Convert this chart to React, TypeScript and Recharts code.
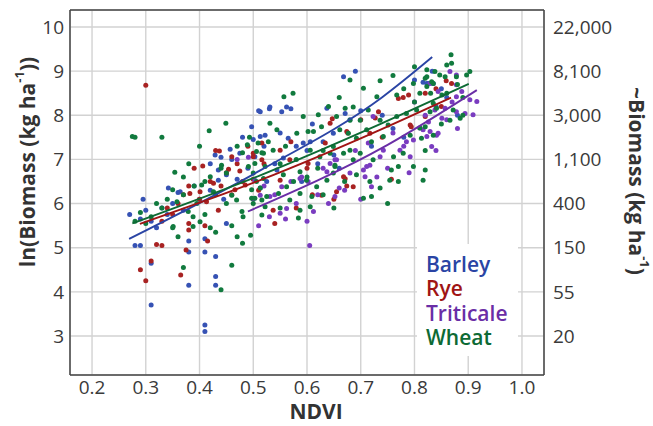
import React from 'react';
import {
  ScatterChart,
  Scatter,
  XAxis,
  YAxis,
  CartesianGrid,
  ReferenceLine,
} from 'recharts';

// NDVI vs ln(biomass) samples: [ndvi, ln(kg/ha)]
const barleyPoints: [number, number][] = [
  [0.27, 5.75], [0.28, 5.05], [0.29, 5.05], [0.29, 5.65], [0.3, 5.85], [0.295, 6.1], [0.31, 3.7],
  [0.31, 4.65], [0.31, 5.6], [0.32, 5.45], [0.33, 5.9], [0.34, 5.75], [0.342, 6.35], [0.35, 6.0],
  [0.36, 6.25], [0.364, 6.27], [0.37, 5.85], [0.38, 4.15], [0.38, 4.9], [0.38, 5.15], [0.39, 6.4],
  [0.4, 6.1], [0.41, 3.1], [0.41, 3.25], [0.41, 4.9], [0.41, 5.2], [0.42, 6.9], [0.42, 6.3],
  [0.43, 4.15], [0.43, 4.35], [0.43, 4.8], [0.429, 7.1], [0.435, 6.76], [0.435, 6.53], [0.44, 7.05],
  [0.445, 6.1], [0.45, 5.55], [0.45, 6.65], [0.457, 7.23], [0.46, 7.0], [0.47, 6.55], [0.475, 7.14],
  [0.48, 7.5], [0.49, 6.8], [0.497, 7.74], [0.5, 7.45], [0.503, 7.06], [0.51, 8.1], [0.513, 7.52],
  [0.513, 6.35], [0.513, 8.08], [0.52, 7.3], [0.522, 7.55], [0.525, 6.5], [0.531, 8.19], [0.53, 8.15],
  [0.54, 6.9], [0.544, 6.76], [0.553, 8.08], [0.556, 7.03], [0.55, 7.6], [0.562, 8.19], [0.565, 7.48],
  [0.57, 8.15], [0.58, 7.3], [0.59, 6.5], [0.593, 7.37], [0.606, 7.4], [0.6, 7.2], [0.61, 7.8],
  [0.62, 6.9], [0.63, 7.4], [0.637, 8.16], [0.649, 7.59], [0.65, 7.1], [0.66, 6.8], [0.668, 8.87],
  [0.671, 8.04], [0.68, 7.9], [0.69, 9.0], [0.7, 8.1], [0.72, 7.3], [0.74, 8.0], [0.76, 7.7],
  [0.78, 7.5], [0.8, 8.8], [0.816, 8.75], [0.823, 8.72], [0.826, 8.72], [0.833, 9.0], [0.835, 8.72],
  [0.84, 8.2], [0.85, 8.6], [0.86, 8.4], [0.88, 8.0],
];

const ryePoints: [number, number][] = [
  [0.29, 4.5], [0.3, 4.25], [0.3, 8.68], [0.31, 4.7], [0.32, 5.07], [0.33, 5.05], [0.33, 5.6],
  [0.34, 5.9], [0.35, 5.75], [0.36, 6.0], [0.365, 4.38], [0.37, 6.2], [0.375, 4.95], [0.38, 5.4],
  [0.38, 5.55], [0.38, 6.4], [0.382, 6.23], [0.39, 6.8], [0.4, 6.1], [0.401, 6.27], [0.406, 6.85],
  [0.41, 5.5], [0.413, 6.04], [0.415, 5.15], [0.42, 6.5], [0.426, 6.46], [0.43, 7.2], [0.435, 5.85],
  [0.437, 7.19], [0.44, 6.4], [0.45, 6.7], [0.454, 6.78], [0.46, 7.06], [0.46, 6.2], [0.466, 6.31],
  [0.47, 6.9], [0.475, 6.74], [0.48, 6.5], [0.485, 6.42], [0.49, 7.3], [0.5, 7.06], [0.5, 7.14],
  [0.5, 6.55], [0.516, 7.37], [0.516, 6.99], [0.51, 6.3], [0.52, 6.9], [0.537, 5.85], [0.54, 5.55],
  [0.55, 7.21], [0.55, 6.53], [0.568, 6.99], [0.57, 7.4], [0.58, 5.9], [0.6, 6.8], [0.602, 6.91],
  [0.61, 6.2], [0.627, 6.19], [0.634, 7.37], [0.643, 7.82], [0.647, 7.92], [0.65, 6.1],
  [0.655, 6.27], [0.668, 6.61], [0.671, 6.56], [0.674, 7.63], [0.674, 6.4], [0.676, 7.6],
  [0.686, 6.38], [0.7, 7.9], [0.717, 7.59], [0.727, 7.94], [0.733, 8.08], [0.74, 7.5],
  [0.757, 6.55], [0.77, 8.38], [0.779, 8.4], [0.789, 8.46], [0.792, 7.78], [0.794, 7.74],
  [0.82, 7.97], [0.82, 8.5], [0.84, 8.6], [0.859, 8.78], [0.869, 8.72], [0.85, 8.2],
];

const triticalePoints: [number, number][] = [
  [0.47, 7.0], [0.491, 7.05], [0.5, 6.1], [0.503, 6.53], [0.51, 5.5], [0.513, 6.19], [0.52, 6.4],
  [0.531, 6.16], [0.53, 5.7], [0.54, 6.2], [0.55, 5.78], [0.553, 6.38], [0.56, 5.65], [0.562, 5.89],
  [0.57, 6.5], [0.58, 6.0], [0.587, 6.57], [0.59, 6.6], [0.6, 5.6], [0.602, 6.5], [0.605, 5.05],
  [0.612, 5.82], [0.62, 6.2], [0.63, 6.8], [0.637, 6.72], [0.64, 6.0], [0.643, 6.91], [0.652, 6.16],
  [0.652, 6.99], [0.655, 6.99], [0.66, 6.35], [0.67, 6.3], [0.68, 6.69], [0.69, 7.2], [0.7, 6.1],
  [0.705, 6.76], [0.708, 6.61], [0.711, 6.84], [0.714, 7.37], [0.717, 6.87], [0.72, 6.38],
  [0.723, 7.97], [0.73, 6.6], [0.736, 7.06], [0.742, 7.21], [0.75, 6.8], [0.76, 7.6], [0.773, 7.21],
  [0.78, 7.3], [0.785, 7.4], [0.79, 6.7], [0.792, 7.06], [0.798, 7.44], [0.81, 7.71], [0.816, 7.67],
  [0.82, 8.0], [0.823, 7.52], [0.826, 7.85], [0.829, 8.72], [0.829, 7.63], [0.832, 7.29],
  [0.838, 8.12], [0.841, 7.55], [0.844, 8.54], [0.844, 7.59], [0.84, 7.2], [0.851, 7.93],
  [0.857, 8.16], [0.86, 7.9], [0.866, 8.99], [0.87, 8.3], [0.878, 8.91], [0.878, 8.69],
  [0.878, 8.42], [0.878, 8.08], [0.88, 7.7], [0.888, 8.54], [0.894, 8.04], [0.903, 8.35],
  [0.909, 8.01], [0.916, 8.31], [0.8, 8.3],
];

const wheatPoints: [number, number][] = [
  [0.275, 7.52], [0.28, 7.5], [0.28, 5.6], [0.29, 5.8], [0.3, 5.55], [0.31, 5.7], [0.32, 6.0],
  [0.33, 7.5], [0.33, 5.9], [0.34, 6.1], [0.35, 5.45], [0.351, 5.48], [0.35, 6.31], [0.354, 6.71],
  [0.36, 5.25], [0.358, 6.04], [0.37, 4.55], [0.37, 6.6], [0.37, 6.2], [0.379, 5.82], [0.38, 6.9],
  [0.388, 5.7], [0.388, 5.48], [0.39, 6.4], [0.395, 6.0], [0.401, 5.59], [0.404, 6.42], [0.4, 7.3],
  [0.41, 6.5], [0.41, 5.75], [0.418, 7.65], [0.42, 6.61], [0.42, 5.45], [0.426, 6.27], [0.43, 6.2],
  [0.43, 5.35], [0.44, 4.05], [0.441, 6.87], [0.44, 6.8], [0.449, 7.82], [0.45, 6.69], [0.45, 6.0],
  [0.46, 4.6], [0.46, 5.5], [0.46, 6.19], [0.469, 6.08], [0.47, 5.25], [0.47, 7.3], [0.479, 5.82],
  [0.48, 7.15], [0.481, 5.7], [0.48, 5.1], [0.489, 7.33], [0.491, 6.84], [0.493, 7.5], [0.495, 5.28],
  [0.497, 6.12], [0.497, 6.31], [0.5, 6.0], [0.5, 6.69], [0.503, 6.91], [0.503, 6.12], [0.506, 7.18],
  [0.506, 6.5], [0.509, 7.37], [0.513, 6.35], [0.516, 7.15], [0.516, 6.08], [0.516, 5.74],
  [0.519, 6.57], [0.519, 7.14], [0.522, 6.84], [0.522, 5.93], [0.525, 6.16], [0.528, 7.4],
  [0.531, 7.82], [0.537, 7.21], [0.544, 7.67], [0.547, 6.23], [0.55, 6.9], [0.55, 5.9],
  [0.556, 6.65], [0.557, 8.42], [0.56, 7.3], [0.562, 6.38], [0.568, 6.08], [0.574, 8.5],
  [0.575, 6.5], [0.581, 7.59], [0.584, 5.67], [0.58, 7.0], [0.587, 6.72], [0.587, 6.23],
  [0.587, 5.85], [0.593, 7.97], [0.599, 6.53], [0.602, 7.63], [0.6, 6.6], [0.606, 7.21],
  [0.606, 5.93], [0.609, 6.16], [0.612, 7.63], [0.618, 6.38], [0.621, 8.01], [0.624, 7.06],
  [0.627, 7.74], [0.62, 6.8], [0.63, 7.2], [0.63, 6.2], [0.637, 6.53], [0.64, 8.2], [0.643, 7.14],
  [0.649, 7.29], [0.649, 6.69], [0.652, 6.87], [0.652, 6.84], [0.655, 7.97], [0.65, 5.9],
  [0.661, 7.67], [0.66, 8.4], [0.668, 7.14], [0.67, 6.5], [0.671, 8.16], [0.677, 7.59],
  [0.68, 7.89], [0.68, 7.21], [0.686, 8.19], [0.686, 6.99], [0.68, 8.8], [0.692, 7.48],
  [0.692, 6.65], [0.699, 7.89], [0.699, 7.14], [0.705, 8.61], [0.705, 6.12], [0.711, 7.67],
  [0.714, 8.12], [0.717, 6.5], [0.72, 7.4], [0.72, 6.16], [0.723, 6.99], [0.73, 8.42],
  [0.736, 8.78], [0.736, 7.89], [0.736, 6.35], [0.742, 7.52], [0.751, 7.78], [0.754, 6.53],
  [0.757, 6.76], [0.75, 6.0], [0.76, 8.9], [0.761, 7.06], [0.767, 8.46], [0.767, 7.97],
  [0.77, 6.84], [0.77, 6.5], [0.779, 7.14], [0.78, 8.6], [0.785, 8.04], [0.792, 7.55],
  [0.798, 8.72], [0.798, 6.84], [0.8, 8.3], [0.8, 9.1], [0.804, 8.12], [0.81, 7.71], [0.81, 8.5],
  [0.813, 7.48], [0.816, 6.53], [0.82, 6.76], [0.82, 8.84], [0.82, 7.74], [0.823, 8.87],
  [0.823, 9.03], [0.823, 8.65], [0.82, 7.2], [0.829, 8.08], [0.83, 8.5], [0.832, 8.76],
  [0.835, 8.72], [0.835, 8.27], [0.835, 7.55], [0.838, 8.99], [0.841, 8.16], [0.847, 8.91],
  [0.85, 7.8], [0.851, 8.46], [0.857, 8.87], [0.86, 9.14], [0.86, 8.5], [0.866, 7.89],
  [0.868, 9.37], [0.869, 9.18], [0.872, 8.12], [0.878, 8.87], [0.885, 7.93], [0.88, 8.7],
  [0.89, 8.4], [0.897, 8.91], [0.903, 8.99], [0.89, 8.0],
];

// fitted curves (a few points along each)
const barleyFit: [number, number][] = [[0.269, 5.2], [0.513, 6.75], [0.74, 8.41], [0.833, 9.32]];
const ryeFit: [number, number][] = [[0.289, 5.54], [0.513, 6.53], [0.736, 7.67], [0.868, 8.4]];
const triticaleFit: [number, number][] = [[0.49, 5.82], [0.75, 7.33], [0.916, 8.57]];
const wheatFit: [number, number][] = [[0.275, 5.55], [0.513, 6.64], [0.736, 7.8], [0.901, 8.71]];

const xTicks = [0.2, 0.3, 0.4, 0.5, 0.6, 0.7, 0.8, 0.9, 1.0];
const yTicks = [3, 4, 5, 6, 7, 8, 9, 10];
const rightTickLabels = ['20', '55', '150', '400', '1,100', '3,000', '8,100', '22,000'];

const legendItems = [
  { name: 'Barley', color: '#2a44a4' },
  { name: 'Rye', color: '#a01414' },
  { name: 'Triticale', color: '#6a2ea6' },
  { name: 'Wheat', color: '#0d6a34' },
];

const X_DOMAIN: [number, number] = [0.159, 1.041];
const Y_DOMAIN: [number, number] = [2.116, 10.385];
const FONT = '"Open Sans", "DejaVu Sans", sans-serif';

const toXY = (pts: [number, number][]) => pts.map(([x, y]) => ({ x, y }));

const dot = (color: string) => (props: any) =>
  <circle cx={props.cx} cy={props.cy} r={2.5} fill={color} />;

const noDot = () => <g />;

function LeftLabel() {
  return (
    <text
      x={27}
      y={162}
      transform="rotate(-90 27 162)"
      textAnchor="middle"
      dominantBaseline="central"
      fontFamily={FONT}
      fontSize={21}
      fontWeight={700}
      fill="#333"
    >
      ln(Biomass (kg ha<tspan fontSize={13} dy={-8}>-1</tspan><tspan dy={8}>))</tspan>
    </text>
  );
}

function RightLabel() {
  return (
    <text
      x={637}
      y={181}
      transform="rotate(90 637 181)"
      textAnchor="middle"
      dominantBaseline="central"
      fontFamily={FONT}
      fontSize={21}
      fontWeight={700}
      fill="#333"
    >
      ~Biomass (kg ha<tspan fontSize={13} dy={-8}>-1</tspan><tspan dy={8}>)</tspan>
    </text>
  );
}

function BottomLabel() {
  return (
    <text
      x={316}
      y={411}
      textAnchor="middle"
      dominantBaseline="central"
      fontFamily={FONT}
      fontSize={21}
      fontWeight={700}
      fill="#333"
    >
      NDVI
    </text>
  );
}

export default function App() {
  const tickStyle = { fontSize: 19, fill: '#3a3a3a', fontFamily: FONT };
  const fitLine = (color: string) => ({ stroke: color, strokeWidth: 1.9 });
  return (
    <div style={{ position: 'relative', width: 653, height: 426, background: '#fff' }}>
      <style>{'body{margin:0}'}</style>
      <ScatterChart width={653} height={426} margin={{ top: 10, right: 0, bottom: 0, left: 0 }}>
        <CartesianGrid yAxisId="left" stroke="#d2d2d2" strokeWidth={1.4} />
        <XAxis
          type="number"
          dataKey="x"
          domain={X_DOMAIN}
          ticks={xTicks}
          allowDataOverflow
          height={51}
          tickLine={false}
          tickSize={0}
          tickMargin={6}
          tick={tickStyle}
          tickFormatter={(v: number) => v.toFixed(1)}
          axisLine={{ stroke: '#444', strokeWidth: 1.5 }}
          label={<BottomLabel />}
        />
        <YAxis
          type="number"
          dataKey="y"
          yAxisId="left"
          domain={Y_DOMAIN}
          ticks={yTicks}
          allowDataOverflow
          width={70}
          tickLine={false}
          tickSize={0}
          tickMargin={6}
          tick={tickStyle}
          axisLine={{ stroke: '#444', strokeWidth: 1.5 }}
          label={<LeftLabel />}
        />
        <YAxis
          type="number"
          dataKey="y"
          yAxisId="right"
          orientation="right"
          domain={Y_DOMAIN}
          ticks={yTicks}
          allowDataOverflow
          width={109}
          tickLine={false}
          tickSize={0}
          tickMargin={9}
          tick={tickStyle}
          tickFormatter={(v: number) => rightTickLabels[yTicks.indexOf(v)] ?? ''}
          axisLine={{ stroke: '#444', strokeWidth: 1.5 }}
          label={<RightLabel />}
        />
        <ReferenceLine yAxisId="left" y={Y_DOMAIN[1]} stroke="#444" strokeWidth={1.5} />

        <Scatter yAxisId="left" data={toXY(barleyPoints)} shape={dot('#3652b4')} isAnimationActive={false} />
        <Scatter yAxisId="left" data={toXY(ryePoints)} shape={dot('#a82222')} isAnimationActive={false} />
        <Scatter yAxisId="left" data={toXY(triticalePoints)} shape={dot('#7a3cc0')} isAnimationActive={false} />
        <Scatter yAxisId="left" data={toXY(wheatPoints)} shape={dot('#117a3e')} isAnimationActive={false} />
        <Scatter yAxisId="right" data={toXY(triticaleFit)} shape={noDot} line={fitLine('#6a2ea6')} lineJointType="monotoneX" isAnimationActive={false} />
        <Scatter yAxisId="left" data={toXY(barleyFit)} shape={noDot} line={fitLine('#2a44a4')} lineJointType="monotoneX" isAnimationActive={false} />
        <Scatter yAxisId="left" data={toXY(ryeFit)} shape={noDot} line={fitLine('#a01414')} lineJointType="monotoneX" isAnimationActive={false} />
        <Scatter yAxisId="left" data={toXY(wheatFit)} shape={noDot} line={fitLine('#0d6a34')} lineJointType="monotoneX" isAnimationActive={false} />
      </ScatterChart>
      <div
        style={{
          position: 'absolute',
          left: 417,
          top: 244,
          width: 101,
          height: 112,
          background: '#fff',
          paddingTop: 8,
          paddingLeft: 9,
          boxSizing: 'border-box',
          fontFamily: FONT,
          fontWeight: 600,
          fontSize: 21,
          lineHeight: '24.3px',
        }}
      >
        {legendItems.map((item) => (
          <div key={item.name} style={{ color: item.color, whiteSpace: 'nowrap' }}>
            {item.name}
          </div>
        ))}
      </div>
    </div>
  );
}
